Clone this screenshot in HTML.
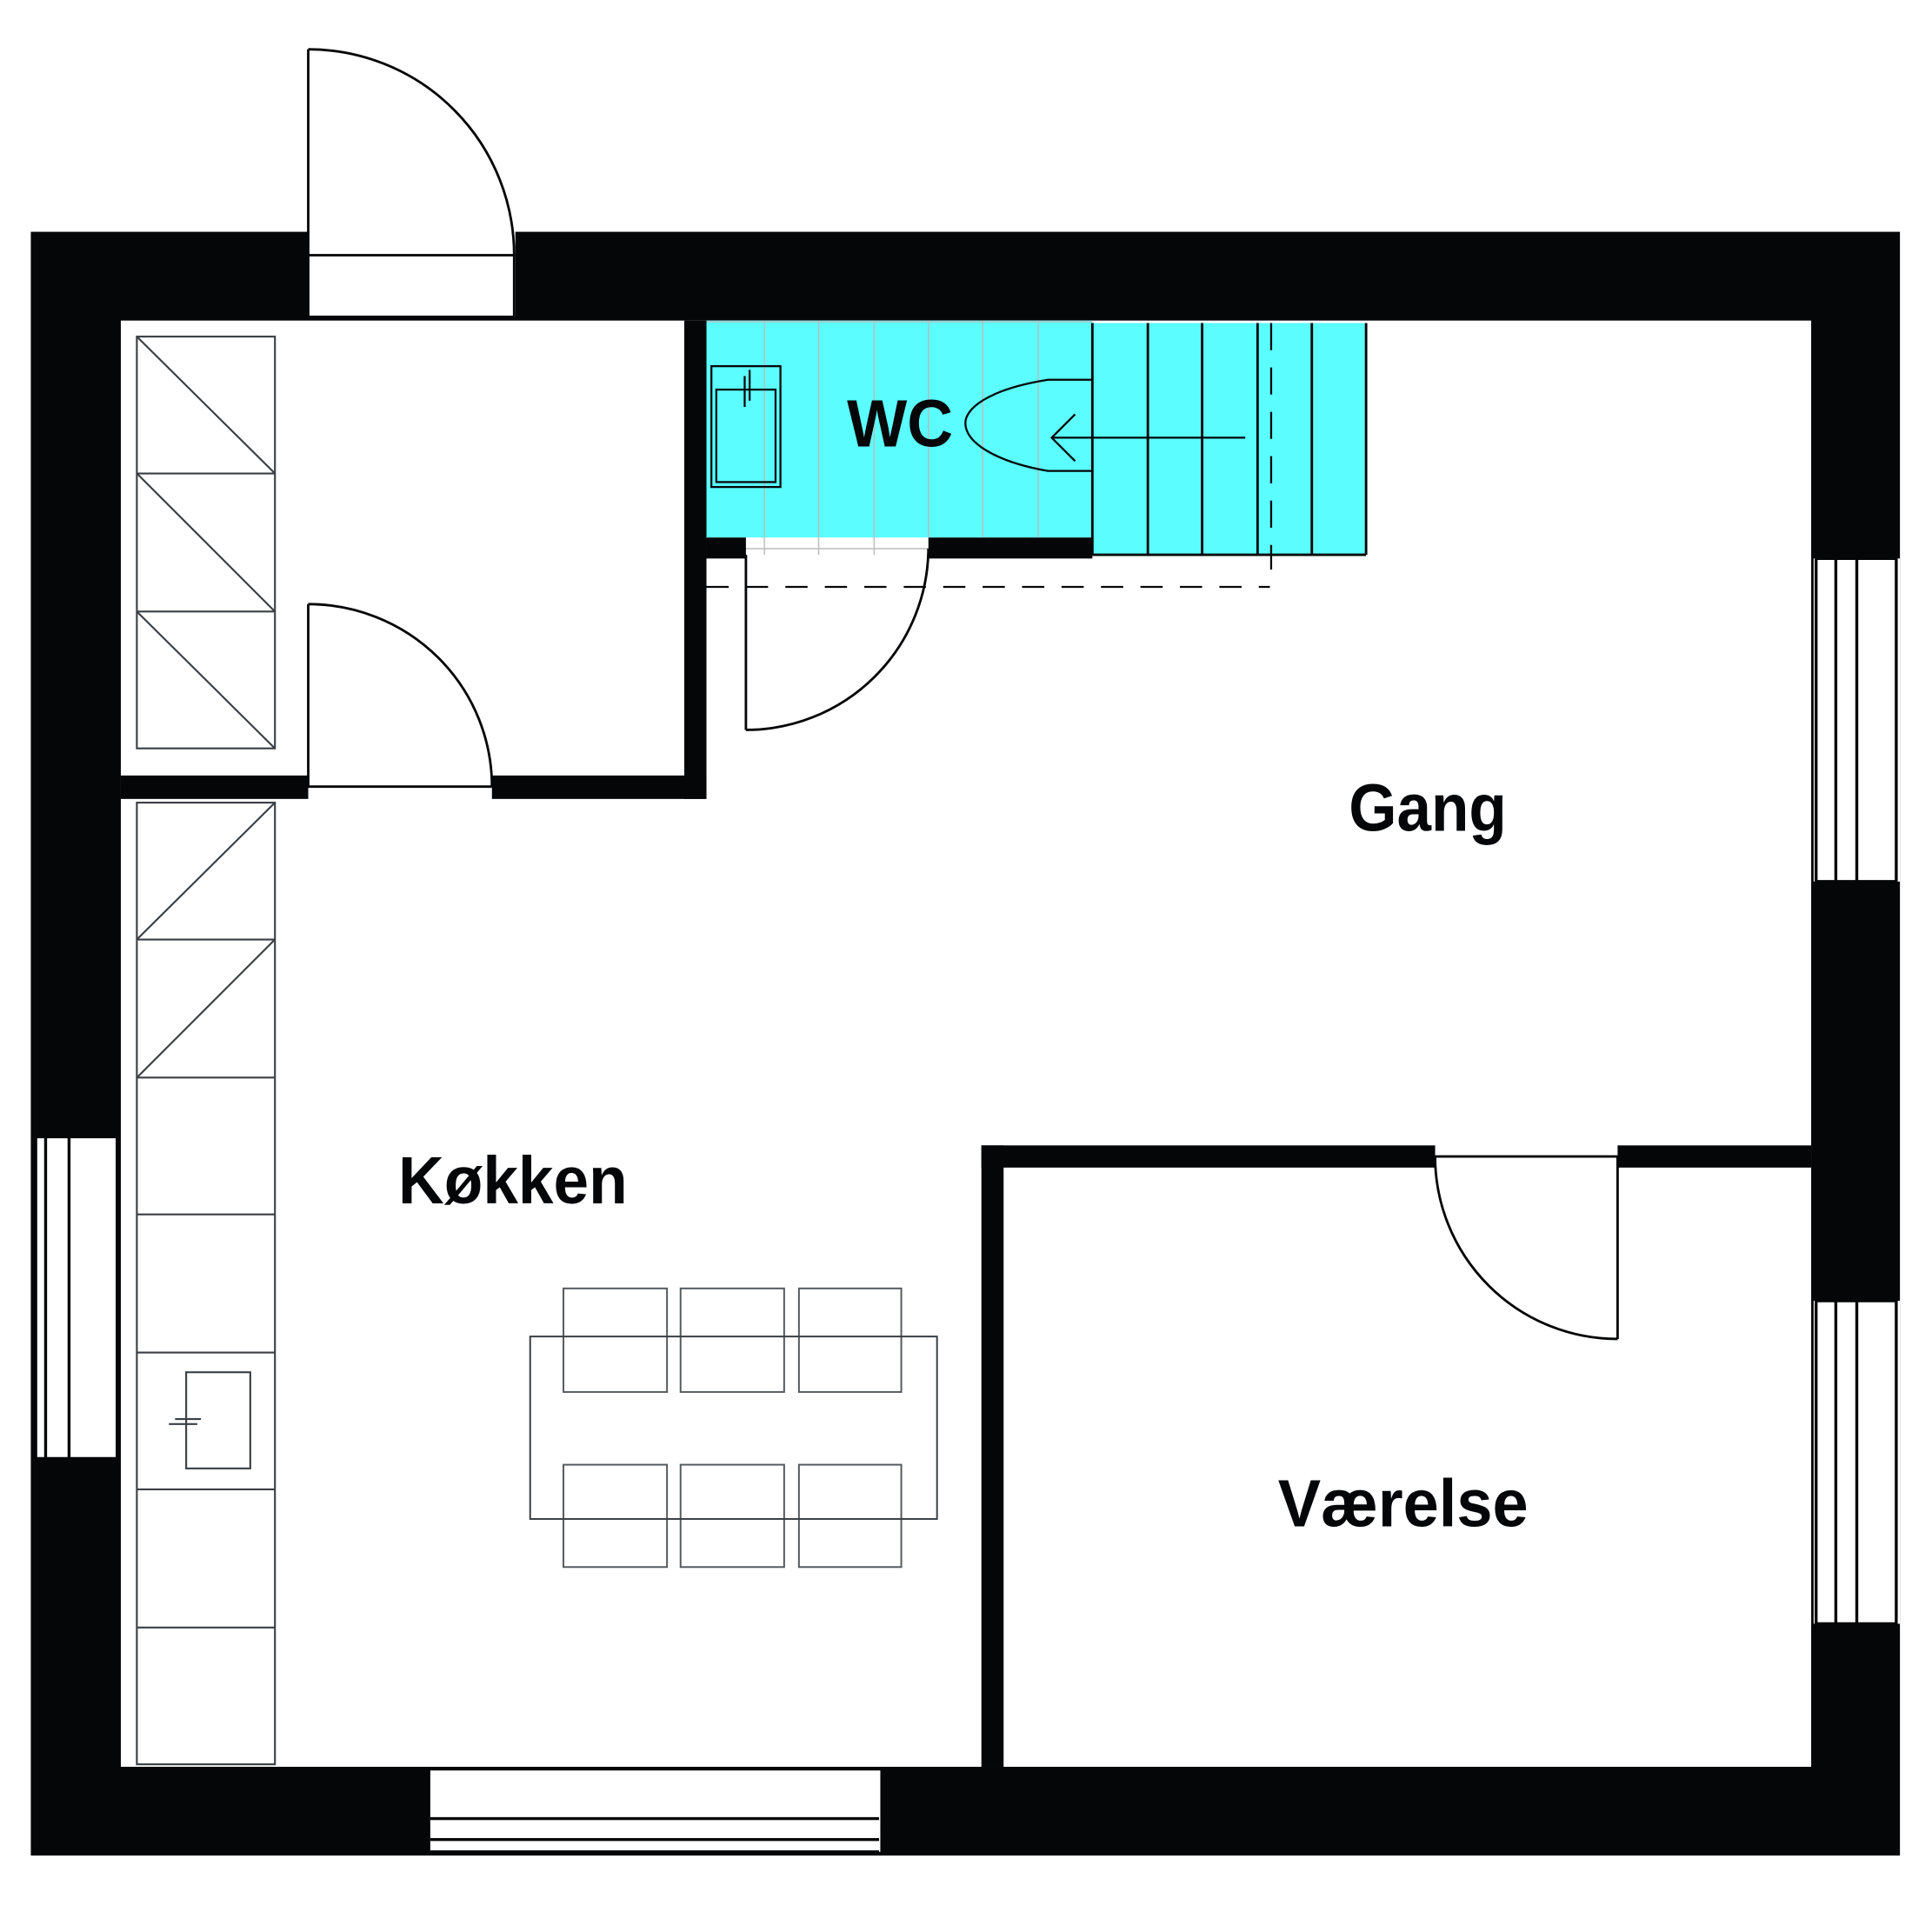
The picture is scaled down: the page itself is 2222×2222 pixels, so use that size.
<!DOCTYPE html>
<html><head><meta charset="utf-8"><style>
html,body{margin:0;padding:0;background:#fff}
svg{display:block}
text{font-family:"Liberation Sans",sans-serif;font-weight:bold;fill:#050608}
</style></head><body>
<svg width="2222" height="2222" viewBox="0 0 1567 1567" xmlns="http://www.w3.org/2000/svg">
<rect width="1570" height="1570" fill="#fff"/>
<rect x="25" y="188" width="1516" height="1317" fill="#050608"/>
<rect x="98" y="260" width="1371" height="1173" fill="#fff"/>
<rect x="573" y="260" width="313" height="176" fill="#5bfdff"/>
<rect x="605" y="436" width="148" height="14" fill="#fff"/>
<rect x="886" y="262" width="222" height="188" fill="#5bfdff"/>
<g stroke="#bbb" stroke-width="1">
<line x1="620" y1="260" x2="620" y2="450"/><line x1="664" y1="260" x2="664" y2="450"/>
<line x1="709" y1="260" x2="709" y2="450"/><line x1="753" y1="260" x2="753" y2="436"/>
<line x1="797" y1="260" x2="797" y2="436"/><line x1="842" y1="260" x2="842" y2="436"/>
<line x1="605" y1="445" x2="753" y2="445"/><line x1="573" y1="261" x2="886" y2="261"/>
</g>
<g stroke="#050608" stroke-width="2" fill="none">
<line x1="886" y1="262" x2="886" y2="450"/><line x1="931" y1="262" x2="931" y2="450"/>
<line x1="975" y1="262" x2="975" y2="450"/><line x1="1020" y1="262" x2="1020" y2="450"/>
<line x1="1064" y1="262" x2="1064" y2="450"/><line x1="1108" y1="262" x2="1108" y2="450"/>
<line x1="886" y1="450" x2="1108" y2="450"/>
</g>
<g stroke="#050608" stroke-width="1.6" fill="none">
<line x1="1031" y1="262" x2="1031" y2="462" stroke-dasharray="22,14"/>
<line x1="573" y1="476" x2="1030" y2="476" stroke-dasharray="18,14"/>
<line x1="1010" y1="355" x2="853" y2="355"/>
<polyline points="872,336 853,355 872,374"/>
<path d="M886,308 L850,308 C800,316 783,332 783,343 C783,360 810,375 850,382 L886,382"/>
<rect x="577" y="297" width="56" height="98"/>
<rect x="581" y="316" width="48" height="75"/>
<line x1="604" y1="305" x2="604" y2="330"/><line x1="608" y1="300" x2="608" y2="325"/>
</g>
<text x="730" y="362" font-size="54" text-anchor="middle" textLength="86" lengthAdjust="spacingAndGlyphs">WC</text>
<rect x="555" y="260" width="18" height="388" fill="#050608"/>
<rect x="98" y="629" width="152" height="19" fill="#050608"/>
<rect x="399" y="629" width="174" height="19" fill="#050608"/>
<rect x="573" y="436" width="32" height="17" fill="#050608"/>
<rect x="753" y="436" width="133" height="17" fill="#050608"/>
<rect x="796" y="929" width="18" height="504" fill="#050608"/>
<rect x="796" y="929" width="368" height="18" fill="#050608"/>
<rect x="1312" y="929" width="157" height="18" fill="#050608"/>
<rect x="250" y="187" width="168" height="70" fill="#fff"/>
<g stroke="#050608" stroke-width="2" fill="none">
<rect x="250" y="207" width="167" height="50"/>
<line x1="250" y1="40" x2="250" y2="207"/>
<path d="M250,40 A167,167 0 0 1 417,207"/>
<line x1="250" y1="638" x2="399" y2="638"/>
<line x1="250" y1="490" x2="250" y2="638"/>
<path d="M250,490 A149,148 0 0 1 399,638"/>
<line x1="605" y1="450" x2="605" y2="592"/>
<path d="M605,592 A148,148 0 0 0 753,445"/>
<line x1="1164" y1="938" x2="1312" y2="938"/>
<line x1="1312" y1="938" x2="1312" y2="1086"/>
<path d="M1164,938 A148,148 0 0 0 1312,1086"/>
</g>
<rect x="28" y="922" width="67" height="261" fill="#fff"/>
<rect x="1471" y="453" width="70" height="262" fill="#fff"/>
<rect x="1471" y="1055" width="70" height="262" fill="#fff"/>
<rect x="349" y="1436" width="365" height="66" fill="#fff"/>
<g stroke="#050608" stroke-width="2.4" fill="none">
<line x1="29" y1="922" x2="29" y2="1183"/><line x1="37" y1="922" x2="37" y2="1183"/>
<line x1="56" y1="922" x2="56" y2="1183"/><line x1="95" y1="922" x2="95" y2="1183"/>
<line x1="29" y1="922" x2="95" y2="922"/><line x1="29" y1="1183" x2="95" y2="1183"/>
<line x1="1473" y1="453" x2="1473" y2="715"/><line x1="1489" y1="453" x2="1489" y2="715"/>
<line x1="1506" y1="453" x2="1506" y2="715"/><line x1="1538" y1="453" x2="1538" y2="715"/>
<line x1="1473" y1="453" x2="1538" y2="453"/><line x1="1473" y1="715" x2="1538" y2="715"/>
<line x1="1473" y1="1055" x2="1473" y2="1317"/><line x1="1489" y1="1055" x2="1489" y2="1317"/>
<line x1="1506" y1="1055" x2="1506" y2="1317"/><line x1="1538" y1="1055" x2="1538" y2="1317"/>
<line x1="1473" y1="1055" x2="1538" y2="1055"/><line x1="1473" y1="1317" x2="1538" y2="1317"/>
<line x1="349" y1="1475" x2="713" y2="1475"/><line x1="349" y1="1492" x2="713" y2="1492"/>
<line x1="349" y1="1502" x2="713" y2="1502"/>
</g>
<g stroke="#3a3f44" stroke-width="1.5" fill="none">
<rect x="111" y="273" width="112" height="334"/>
<line x1="111" y1="384" x2="223" y2="384"/><line x1="111" y1="496" x2="223" y2="496"/>
<line x1="111" y1="273" x2="223" y2="384"/><line x1="111" y1="384" x2="223" y2="496"/><line x1="111" y1="496" x2="223" y2="607"/>
<rect x="111" y="651" width="112" height="780"/>
<line x1="111" y1="762" x2="223" y2="762"/><line x1="111" y1="874" x2="223" y2="874"/>
<line x1="111" y1="985" x2="223" y2="985"/><line x1="111" y1="1097" x2="223" y2="1097"/>
<line x1="111" y1="1208" x2="223" y2="1208"/><line x1="111" y1="1320" x2="223" y2="1320"/>
<line x1="111" y1="762" x2="223" y2="651"/><line x1="111" y1="874" x2="223" y2="762"/>
<rect x="151" y="1113" width="52" height="78"/>
<line x1="142" y1="1151" x2="163" y2="1151"/><line x1="137" y1="1155" x2="160" y2="1155"/>
</g>
<g stroke="#555a5e" stroke-width="1.4" fill="none">
<rect x="457" y="1045" width="84" height="84"/><rect x="552" y="1045" width="84" height="84"/><rect x="648" y="1045" width="83" height="84"/>
<rect x="457" y="1188" width="84" height="83"/><rect x="552" y="1188" width="84" height="83"/><rect x="648" y="1188" width="83" height="83"/>
<rect x="430" y="1084" width="330" height="148" stroke="#3a3f44"/>
</g>
<text x="1158" y="674" font-size="54" text-anchor="middle" textLength="128" lengthAdjust="spacingAndGlyphs">Gang</text>
<text x="416" y="976" font-size="54" text-anchor="middle" textLength="186" lengthAdjust="spacingAndGlyphs">Køkken</text>
<text x="1138" y="1238" font-size="54" text-anchor="middle" textLength="203" lengthAdjust="spacingAndGlyphs">Værelse</text>
</svg>
</body></html>
